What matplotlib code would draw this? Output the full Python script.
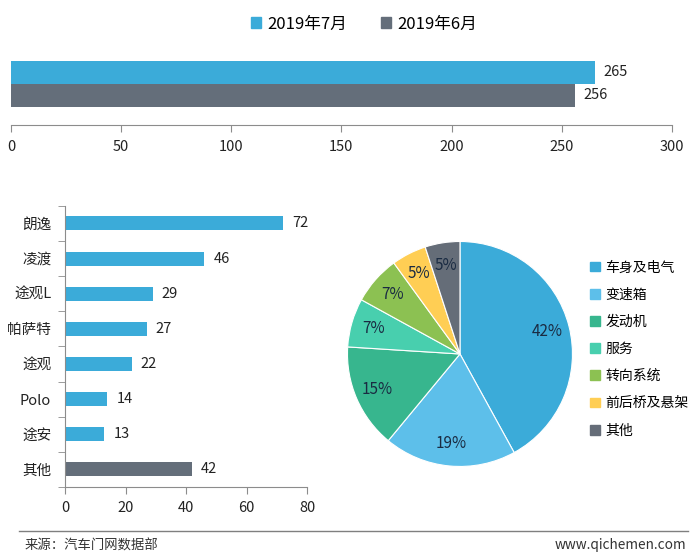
import matplotlib.pyplot as plt
from matplotlib.patches import Patch
from matplotlib.lines import Line2D

plt.rcParams['font.family'] = ['Noto Sans CJK SC', 'DejaVu Sans']

# top comparison
months = ['2019年7月', '2019年6月']
month_totals = [265, 256]

# model ranking
models = ['朗逸', '凌渡', '途观L', '帕萨特', '途观', 'Polo', '途安', '其他']
model_counts = [72, 46, 29, 27, 22, 14, 13, 42]

# fault type share
faults = ['车身及电气', '变速箱', '发动机', '服务', '转向系统', '前后桥及悬架', '其他']
fault_pct = [42, 19, 15, 7, 7, 5, 5]

blue = '#3BABD9'
gray = '#646E7A'
pie_colors = ['#3BABD9', '#5DBFEA', '#37B68E', '#48CFAE', '#8CC152', '#FFCE54', '#656D78']
spine_c = '#8C8C8C'
txt_c = '#222222'

fig = plt.figure(figsize=(7, 5.6), dpi=100)

# ---- top chart
ax1 = fig.add_axes([0.0157, 0.777, 0.944, 0.134])
ypos = [1, 0]
ax1.barh(ypos, month_totals, height=1.0, color=[blue, gray])
for y, v in zip(ypos, month_totals):
    ax1.text(v + 4, y, str(v), va='center', ha='left', fontsize=10.5, color=txt_c)
ax1.set_xlim(0, 300)
ax1.set_ylim(-1.28, 1.98)
ax1.set_xticks(range(0, 301, 50))
ax1.set_yticks([])
for s in ['top', 'right', 'left']:
    ax1.spines[s].set_visible(False)
ax1.spines['bottom'].set_color(spine_c)
ax1.tick_params(axis='x', colors=spine_c, labelcolor=txt_c, labelsize=10.5, length=5, pad=6)

handles = [Patch(color=blue, label=months[0]), Patch(color=gray, label=months[1])]
fig.legend(handles=handles, loc='center', bbox_to_anchor=(0.52, 0.957), ncol=2,
           frameon=False, fontsize=12, handlelength=0.6, handleheight=0.6,
           handletextpad=0.4, columnspacing=2.0)

# ---- model bars
ax2 = fig.add_axes([0.093, 0.1304, 0.3457, 0.502])
n = len(models)
yy = list(range(n - 1, -1, -1))
bar_cols = [blue] * (n - 1) + [gray]
ax2.barh(yy, model_counts, height=0.4, color=bar_cols)
for y, v in zip(yy, model_counts):
    ax2.text(v + 3, y, str(v), va='center', ha='left', fontsize=10.5, color=txt_c)
ax2.set_xlim(0, 80)
ax2.set_ylim(-0.5, n - 0.5)
ax2.set_xticks(range(0, 81, 20))
ax2.set_yticks(yy)
ax2.set_yticklabels(models, fontsize=10.5, color=txt_c)
ax2.set_yticks([i + 0.5 for i in range(-1, n)], minor=True)
ax2.tick_params(axis='y', which='major', length=0, pad=10)
ax2.tick_params(axis='y', which='minor', length=5, color=spine_c)
ax2.tick_params(axis='x', colors=spine_c, labelcolor=txt_c, labelsize=10.5, length=5, pad=5)
for s in ['top', 'right']:
    ax2.spines[s].set_visible(False)
for s in ['left', 'bottom']:
    ax2.spines[s].set_color(spine_c)

# ---- pie
ax3 = fig.add_axes([0.4964, 0.167, 0.3214, 0.4018])
wedges, _, autotexts = ax3.pie(fault_pct, colors=pie_colors, startangle=90, counterclock=False,
                               autopct='%d%%', pctdistance=0.8,
                               wedgeprops=dict(linewidth=0.8, edgecolor='white'),
                               textprops=dict(fontsize=11, color='#1A2B42'))
ax3.set_xlim(-1, 1)
ax3.set_ylim(-1, 1)
ax3.set_aspect('equal')
ax3.axis('off')

pie_handles = [Patch(color=c, label=l) for c, l in zip(pie_colors, faults)]
fig.legend(handles=pie_handles, loc='upper left', bbox_to_anchor=(0.835, 0.545),
           frameon=False, fontsize=10, handlelength=0.7, handleheight=0.7,
           handletextpad=0.4, labelspacing=0.95, borderaxespad=0)

# ---- footer
fig.add_artist(Line2D([0.027, 0.983], [0.052, 0.052], color='#7F7F7F', linewidth=1))
fig.text(0.035, 0.026, '来源：汽车门网数据部', fontsize=9.6, color='#333333', va='center', ha='left')
fig.text(0.98, 0.026, 'www.qichemen.com', fontsize=9.8, color='#333333', va='center', ha='right')

fig.savefig('out.png', dpi=100)
